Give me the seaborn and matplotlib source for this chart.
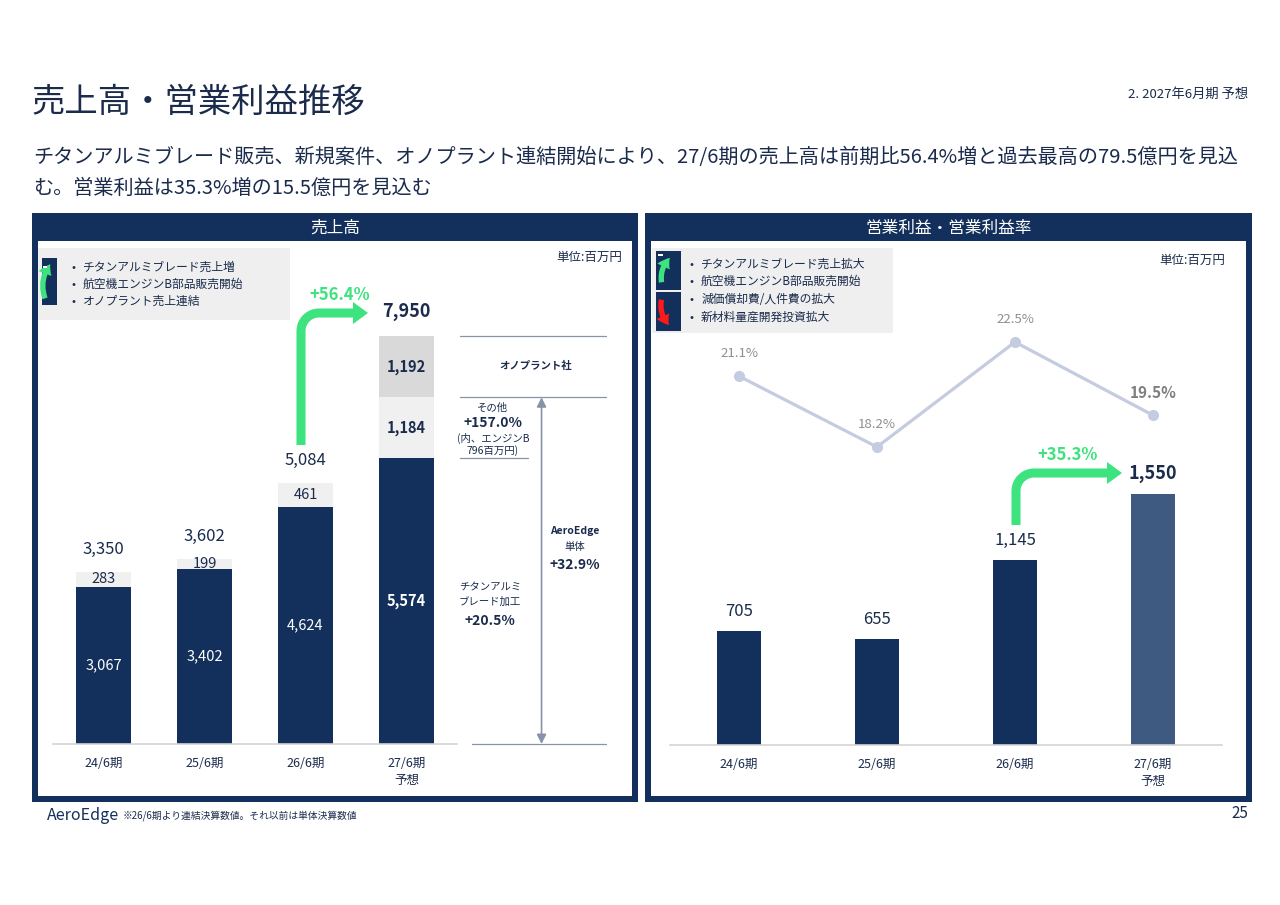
import numpy as np
import pandas as pd
import seaborn as sns
import matplotlib.pyplot as plt
from matplotlib.patches import Rectangle, Polygon, FancyArrowPatch

# -------------------------------
# Data
# -------------------------------
periods = ["24/6期", "25/6期", "26/6期", "27/6期\n予想"]
titan = [3067, 3402, 4624, 5574]
other = [283, 199, 461, 1184]
onoplant = [0, 0, 0, 1192]
sales_total = [3350, 3602, 5084, 7950]

op_income = [705, 655, 1145, 1550]
op_margin = [21.1, 18.2, 22.5, 19.5]

# -------------------------------
# Style
# -------------------------------
NAVY = "#13305c"
SLATE = "#3f5a80"
GRAY_L = "#f0f0f0"
GRAY_D = "#d9d9d9"
TXT = "#1a2b4c"
GREEN = "#3de37f"
LAV = "#c5cbe0"
BRACKET = "#8893aa"

sns.set_style("white")
plt.rcParams["font.family"] = ["Noto Sans CJK JP", "DejaVu Sans"]

W, H = 1280, 905


def rect(x0, y0, x1, y1):
    return [x0 / W, 1 - y1 / H, (x1 - x0) / W, (y1 - y0) / H]


fig = plt.figure(figsize=(12.8, 9.05), dpi=100)
bg = fig.add_axes([0, 0, 1, 1], zorder=0)
bg.set_xlim(0, W)
bg.set_ylim(H, 0)
bg.axis("off")

# -------------------------------
# Header texts
# -------------------------------
bg.text(32, 102, "売上高・営業利益推移", fontsize=24, color=TXT, va="center")
bg.text(1248, 94, "2. 2027年6月期 予想", fontsize=9.5, color=TXT, va="center", ha="right")
bg.text(33, 158, "チタンアルミブレード販売、新規案件、オノプラント連結開始により、27/6期の売上高は前期比56.4%増と過去最高の79.5億円を見込",
        fontsize=14.5, color=TXT, va="center")
bg.text(33, 188, "む。営業利益は35.3%増の15.5億円を見込む", fontsize=14.5, color=TXT, va="center")

# panels
for x0, x1, title in [(32, 638, "売上高"), (645, 1252, "営業利益・営業利益率")]:
    bg.add_patch(Rectangle((x0, 213), x1 - x0, 589, color=NAVY, lw=0))
    bg.add_patch(Rectangle((x0 + 6, 241), x1 - x0 - 12, 555, color="white", lw=0))
    bg.text((x0 + x1) / 2, 228, title, color="white", fontsize=12, ha="center", va="center")

# footer
bg.text(47, 815, "AeroEdge", fontsize=11.5, color=NAVY, va="center")
bg.text(123, 816, "※26/6期より連結決算数値。それ以前は単体決算数値", fontsize=7, color=TXT, va="center")
bg.text(1248, 813, "25", fontsize=11, color=TXT, va="center", ha="right")

# legend boxes
bg.add_patch(Rectangle((38, 248), 252, 72, color="#efefef", lw=0))
bg.add_patch(Rectangle((652, 248), 241, 85, color="#efefef", lw=0))


def icon(x, y, w, h, p0, p1, col, rad):
    bg.add_patch(Rectangle((x, y), w, h, color=NAVY, lw=0))
    bg.add_patch(FancyArrowPatch(p0, p1, connectionstyle=f"arc3,rad={rad}",
                                 arrowstyle="simple,head_length=0.7,head_width=0.9,tail_width=0.35",
                                 mutation_scale=11, color=col, lw=0))


icon(42, 258, 15, 47, (46, 301), (52, 262), GREEN, -0.3)
bg.add_patch(Rectangle((43, 266), 4, 2, color="white", lw=0))
icon(656, 251, 25, 39, (662, 285), (672, 256), GREEN, -0.3)
bg.add_patch(Rectangle((658, 254), 5, 2, color="white", lw=0))
icon(656, 292, 25, 39, (662, 297), (671, 327), "#ff1a1a", 0.3)

left_items = ["チタンアルミブレード売上増", "航空機エンジンB部品販売開始", "オノプラント売上連結"]
for yy, s in zip([267, 284, 301], left_items):
    bg.text(71, yy, "•", fontsize=8.5, color=TXT, va="center")
    bg.text(83, yy, s, fontsize=8.5, color=TXT, va="center")
right_items = ["チタンアルミブレード売上拡大", "航空機エンジンB部品販売開始", "減価償却費/人件費の拡大", "新材料量産開発投資拡大"]
for yy, s in zip([264, 281, 299, 317], right_items):
    bg.text(689, yy, "•", fontsize=8.5, color=TXT, va="center")
    bg.text(701, yy, s, fontsize=8.5, color=TXT, va="center")

bg.text(622, 257, "単位:百万円", fontsize=9, color=TXT, va="center", ha="right")
bg.text(1225, 260, "単位:百万円", fontsize=9, color=TXT, va="center", ha="right")

# -------------------------------
# Sales (stacked bars)
# -------------------------------
df_sales = pd.DataFrame({"period": periods, "titan": titan, "other": other, "onoplant": onoplant})
df_sales["lvl2"] = df_sales["titan"] + df_sales["other"]
df_sales["lvl3"] = df_sales["lvl2"] + df_sales["onoplant"]

ax1 = fig.add_axes(rect(53, 250, 457, 744), zorder=2)
ax1.patch.set_alpha(0)
for col, c in [("lvl3", GRAY_D), ("lvl2", GRAY_L), ("titan", NAVY)]:
    sns.barplot(data=df_sales, x="period", y=col, color=c, saturation=1, width=0.535,
                errorbar=None, linewidth=0, ax=ax1)

for i, row in df_sales.iterrows():
    last = i == len(df_sales) - 1
    ax1.text(i, row["titan"] / 2, f"{row['titan']:,}", color="white", ha="center", va="center",
             fontsize=10.5, fontweight="bold" if last else "normal")
    ax1.text(i, row["titan"] + row["other"] / 2, f"{row['other']:,}", color=TXT, ha="center", va="center",
             fontsize=10.5, fontweight="bold" if last else "normal")
    if row["onoplant"]:
        ax1.text(i, row["lvl2"] + row["onoplant"] / 2, f"{row['onoplant']:,}", color=TXT, ha="center",
                 va="center", fontsize=10.5, fontweight="bold")
    ax1.annotate(f"{sales_total[i]:,}", xy=(i, row["lvl3"]), xytext=(0, 18 if last else 16.5),
                 textcoords="offset points", ha="center", va="center", color=TXT,
                 fontsize=13 if last else 12, fontweight="bold" if last else "normal")

ax1.set_xlim(-0.5, 3.5)
ax1.set_ylim(0, 9630)
ax1.set_xticks(range(len(periods)))
ax1.set_xticklabels(periods, fontsize=9, color=TXT, linespacing=1.45)
ax1.tick_params(axis="x", length=0, pad=9)
ax1.set_yticks([])
ax1.set_xlabel("")
ax1.set_ylabel("")
sns.despine(ax=ax1, left=True)
ax1.spines["bottom"].set_color("#d4d4d4")
ax1.spines["bottom"].set_linewidth(1.2)

# bracket on the forecast bar
top27 = df_sales["lvl3"].iloc[-1]
mid27 = df_sales["lvl2"].iloc[-1]
low27 = df_sales["titan"].iloc[-1]
for y, xa, xb in [(top27, 3.525, 4.98), (mid27, 3.525, 4.98), (low27, 3.525, 4.20), (0, 3.65, 4.98)]:
    ax1.plot([xa, xb], [y, y], color=BRACKET, lw=0.9, clip_on=False)
ax1.annotate("", xy=(4.337, mid27), xytext=(4.337, 0),
             arrowprops=dict(arrowstyle="<|-|>", color=BRACKET, lw=1.2, mutation_scale=14,
                             shrinkA=0, shrinkB=0), annotation_clip=False)

bg.text(536, 366, "オノプラント社", fontsize=7.5, color=TXT, ha="center", va="center", fontweight="bold")
bg.text(492, 408, "その他", fontsize=7.5, color=TXT, ha="center", va="center")
bg.text(493, 423, "+157.0%", fontsize=10, color=TXT, ha="center", va="center", fontweight="bold")
bg.text(493, 438, "(内、エンジンB", fontsize=7.5, color=TXT, ha="center", va="center")
bg.text(493, 451, "796百万円)", fontsize=7.5, color=TXT, ha="center", va="center")
bg.text(575, 531, "AeroEdge", fontsize=7.5, color=TXT, ha="center", va="center", fontweight="bold")
bg.text(575, 547, "単体", fontsize=7.5, color=TXT, ha="center", va="center")
bg.text(575, 565, "+32.9%", fontsize=10, color=TXT, ha="center", va="center", fontweight="bold")
bg.text(490, 586, "チタンアルミ", fontsize=7.5, color=TXT, ha="center", va="center")
bg.text(490, 602, "ブレード加工", fontsize=7.5, color=TXT, ha="center", va="center")
bg.text(490, 621, "+20.5%", fontsize=10, color=TXT, ha="center", va="center", fontweight="bold")

# -------------------------------
# Operating income + margin
# -------------------------------
df_op = pd.DataFrame({"period": periods, "income": op_income, "margin": op_margin})

ax2 = fig.add_axes(rect(670, 250, 1222, 745), zorder=2)
ax2.patch.set_alpha(0)
sns.barplot(data=df_op, x="period", y="income", hue="period", palette=[NAVY, NAVY, NAVY, SLATE],
            saturation=1, width=0.32, errorbar=None, linewidth=0, legend=False, ax=ax2)
for i, v in enumerate(op_income):
    last = i == len(op_income) - 1
    ax2.annotate(f"{v:,}", xy=(i, v), xytext=(0, 15 if last else 14), textcoords="offset points",
                 ha="center", va="center", color=TXT, fontsize=13 if last else 12,
                 fontweight="bold" if last else "normal")
ax2.set_xlim(-0.5, 3.5)
ax2.set_ylim(0, 3061)
ax2.set_xticks(range(len(periods)))
ax2.set_xticklabels(periods, fontsize=9, color=TXT, linespacing=1.45)
ax2.tick_params(axis="x", length=0, pad=9)
ax2.set_yticks([])
ax2.set_xlabel("")
ax2.set_ylabel("")
sns.despine(ax=ax2, left=True)
ax2.spines["bottom"].set_color("#d4d4d4")
ax2.spines["bottom"].set_linewidth(1.2)

ax3 = ax2.twinx()
ax3.set_zorder(3)
sns.lineplot(x=np.arange(len(periods)), y=df_op["margin"].values, ax=ax3, color=LAV, lw=2.3,
             marker="o", markersize=8, markeredgewidth=0)
for i, m in enumerate(op_margin):
    last = i == len(op_margin) - 1
    ax3.annotate(f"{m}%", xy=(i, m), xytext=(0, 16), textcoords="offset points", ha="center",
                 va="center", color="#7f7f7f" if last else "#8f8f8f", fontsize=11 if last else 9.5,
                 fontweight="bold" if last else "normal")
ax3.set_ylim(5.99, 26.27)
ax3.set_yticks([])
ax3.set_ylabel("")
for s in ax3.spines.values():
    s.set_visible(False)

# -------------------------------
# Growth arrows
# -------------------------------
fg = fig.add_axes([0, 0, 1, 1], zorder=5)
fg.set_xlim(0, W)
fg.set_ylim(H, 0)
fg.axis("off")


def l_arrow(x0, y0, y1, x2, r=18, hl=15, hw=22):
    t = np.linspace(np.pi, 1.5 * np.pi, 20)
    xs = np.r_[x0, x0 + r + r * np.cos(t), x2 - hl]
    ys = np.r_[y0, y1 + r + r * np.sin(t), y1]
    fg.plot(xs, ys, color=GREEN, lw=6.5, solid_capstyle="butt", solid_joinstyle="round")
    fg.add_patch(Polygon([[x2 - hl, y1 - hw / 2], [x2, y1], [x2 - hl, y1 + hw / 2]], color=GREEN, lw=0))


l_arrow(301, 445, 313, 368)
fg.text(340, 295, "+56.4%", fontsize=12, color=GREEN, ha="center", va="center", fontweight="bold")
l_arrow(1016, 525, 473, 1122)
fg.text(1068, 455, "+35.3%", fontsize=12, color=GREEN, ha="center", va="center", fontweight="bold")

fig.savefig("out.png", dpi=100)
